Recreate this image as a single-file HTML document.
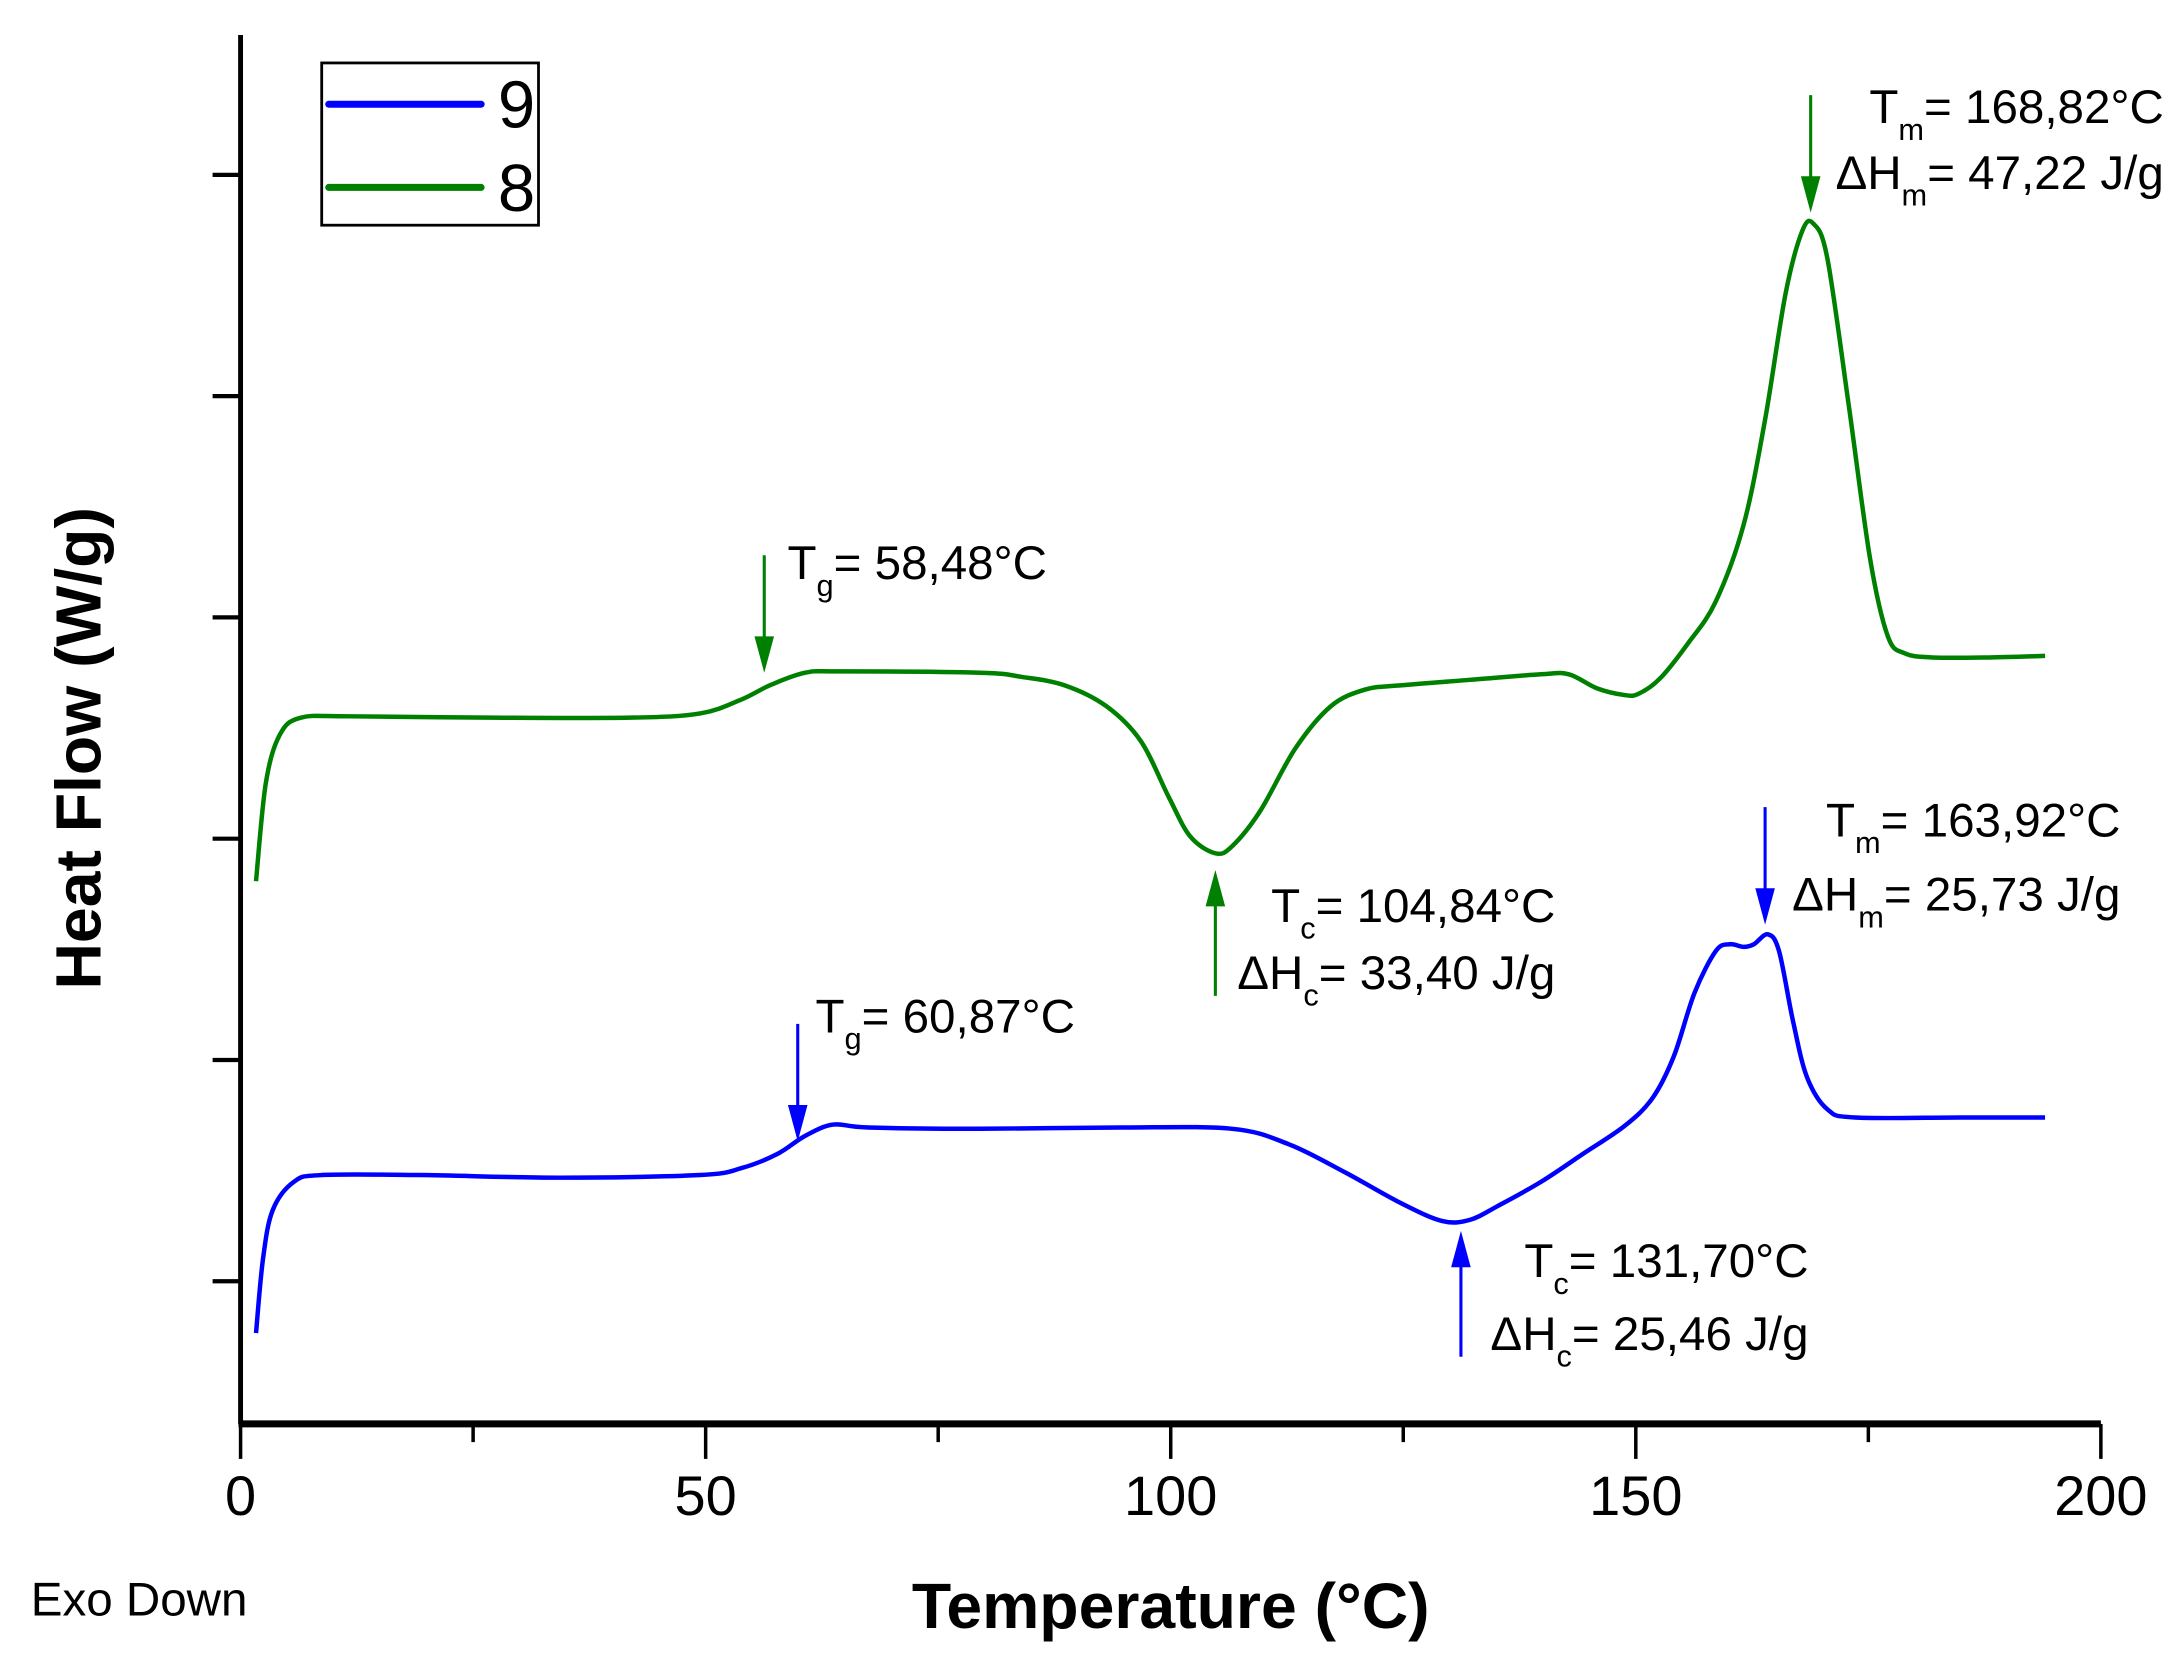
<!DOCTYPE html>
<html><head><meta charset="utf-8">
<style>html,body{margin:0;padding:0;background:#fff}svg{display:block}text{font-family:"Liberation Sans",Arial,sans-serif;fill:#000}</style>
</head><body>
<svg id="chart" width="2182" height="1655" viewBox="0 0 1560 1183.2" preserveAspectRatio="none" xmlns="http://www.w3.org/2000/svg">
<g id="axes"></g>
<g id="series"></g>
<g id="annot"></g>
<g>
  <rect x="230" y="45" width="155" height="116" fill="#fff" stroke="#000" stroke-width="2"/>
  <line x1="235" y1="74.5" x2="344" y2="74.5" stroke="#0000ff" stroke-width="5" stroke-linecap="round"/>
  <text x="356" y="91" font-size="48">9</text>
  <line x1="235" y1="134" x2="344" y2="134" stroke="#008000" stroke-width="5" stroke-linecap="round"/>
  <text x="356" y="151" font-size="48">8</text>
</g>
<text x="837" y="1164" font-size="46" font-weight="bold" text-anchor="middle">Temperature (°C)</text>
<text transform="translate(72,535) rotate(-90)" font-size="46" font-weight="bold" text-anchor="middle">Heat Flow (W/g)</text>
<text x="22" y="1155" font-size="34">Exo Down</text>
</svg>
<script>
const xTicks=[0,50,100,150,200];
const xMinor=[25,75,125,175];
const yTicks=[0,1,2,3,4,5];
const greenT=[1.66,2.71,4.22,6.48,11.75,26.8,41.9,49.4,53.9,56.9,60.7,64.5,79.5,84.0,88.6,93.1,96.8,99.8,102.1,104.8,106.6,109.6,113.4,117.2,120.9,124.7,132.2,139.8,142.8,145.8,148.8,150.3,152.6,155.6,158.6,161.6,163.9,166.1,167.9,169.1,170.6,172.9,175.2,177.1,178.9,181.9,188.0,194.0];
const greenV=[1.808,2.25,2.47,2.547,2.553,2.547,2.547,2.566,2.63,2.693,2.75,2.756,2.75,2.731,2.693,2.598,2.44,2.187,2.01,1.934,1.966,2.124,2.408,2.598,2.674,2.693,2.718,2.743,2.743,2.68,2.649,2.655,2.724,2.882,3.072,3.42,3.894,4.463,4.747,4.779,4.621,3.957,3.262,2.914,2.838,2.819,2.819,2.826];
const blueT=[1.66,2.41,3.46,5.72,8.73,19.3,34.3,49.4,53.9,57.7,60.7,63.7,67.5,79.5,94.6,106.6,112.7,118.7,124.7,129.2,132.2,135.2,139.8,144.3,148.8,151.8,154.1,156.3,158.6,160.1,161.6,162.7,164.2,165.4,166.9,168.4,170.6,173.6,184.9,194.0];
const blueV=[-0.234,0.101,0.322,0.449,0.48,0.48,0.468,0.48,0.512,0.575,0.657,0.708,0.695,0.689,0.695,0.689,0.619,0.493,0.354,0.272,0.278,0.341,0.449,0.575,0.702,0.828,1.018,1.302,1.492,1.523,1.511,1.523,1.568,1.492,1.176,0.923,0.777,0.74,0.74,0.74];
const annT=[56.3,59.9,104.8,131.2,168.8,163.9];

const NS="http://www.w3.org/2000/svg";
const X0=172,X1=1502,Y0=1018,YT=25;
function xs(t){return X0+(t-0)*(X1-X0)/200;}
function ys(v){return 916-v*158.2;}
function mk(tag,attrs,parent){const e=document.createElementNS(NS,tag);for(const k in attrs)e.setAttribute(k,attrs[k]);parent.appendChild(e);return e;}
const axes=document.getElementById('axes');
let e=mk('line',{x1:X0,y1:YT,x2:X0,y2:Y0,stroke:'#000','stroke-width':3.5},axes);


e=mk('line',{x1:X0-1.5,y1:Y0,x2:X1,y2:Y0,stroke:'#000','stroke-width':5},axes);


xTicks.forEach(t=>{
  const l=mk('line',{x1:xs(t),y1:Y0,x2:xs(t),y2:Y0+25,stroke:'#000','stroke-width':2.5},axes);
  
  
  const tx=mk('text',{x:xs(t),y:1083,'font-size':40,'text-anchor':'middle'},axes);
  tx.textContent=t;
  
  
});
xMinor.forEach(t=>{
  const l=mk('line',{x1:xs(t),y1:Y0,x2:xs(t),y2:Y0+13,stroke:'#000','stroke-width':2.5},axes);
  
  
});
yTicks.forEach(v=>{
  const l=mk('line',{x1:X0-20,y1:ys(v),x2:X0,y2:ys(v),stroke:'#000','stroke-width':3},axes);
  
  
});
function pathFrom(T,V){
  const p=T.map((t,i)=>[xs(t),ys(V[i])]);
  let d='M'+p[0][0]+','+p[0][1];
  for(let i=0;i<p.length-1;i++){
    const a=p[i-1]||p[i],b=p[i],c=p[i+1],n=p[i+2]||c;
    const c1=[b[0]+(c[0]-a[0])/6,b[1]+(c[1]-a[1])/6],c2=[c[0]-(n[0]-b[0])/6,c[1]-(n[1]-b[1])/6];
    d+=`C${c1[0]},${c1[1]} ${c2[0]},${c2[1]} ${c[0]},${c[1]}`;
  }
  return d;
}
const ser=document.getElementById('series');
let s=mk('path',{d:pathFrom(greenT,greenV),fill:'none',stroke:'#008000','stroke-width':3.2,'stroke-linejoin':'round'},ser);


s=mk('path',{d:pathFrom(blueT,blueV),fill:'none',stroke:'#0000ff','stroke-width':3.2,'stroke-linejoin':'round'},ser);



const an=document.getElementById('annot');
function arrow(x,yTail,yTip,col,name){
  const g=mk('g',{},an);
  
  
  const dir=yTip>yTail?1:-1;
  mk('line',{x1:x,y1:yTail,x2:x,y2:yTip-dir*20,stroke:col,'stroke-width':2.2},g);
  mk('path',{d:`M${x-7},${yTip-dir*26} L${x},${yTip} L${x+7},${yTip-dir*26} Z`,fill:col},g);
}
arrow(xs(annT[0]),397,481,'#008000','arrow-tg-8');
arrow(xs(annT[1]),732,816,'#0000ff','arrow-tg-9');
arrow(xs(annT[2]),712,622,'#008000','arrow-tc-8');
arrow(xs(annT[3]),970,880,'#0000ff','arrow-tc-9');
arrow(xs(annT[4]),68,152,'#008000','arrow-tm-8');
arrow(xs(annT[5]),577,661,'#0000ff','arrow-tm-9');
function label(x,y,anchor,main,sub,rest,name){
  const t=mk('text',{x:x,y:y,'font-size':34,'text-anchor':anchor},an);
  
  
  t.innerHTML=`${main}<tspan font-size="22" dy="12">${sub}</tspan><tspan dy="-12">${rest}</tspan>`;
}
label(563,414,'start','T','g','= 58,48°C','label-tg-8');
label(583,738,'start','T','g','= 60,87°C','label-tg-9');
label(1547,88,'end','T','m','= 168,82°C','label-tm-8');
label(1547,135,'end','ΔH','m','= 47,22 J/g','label-dhm-8');
label(1112,659,'end','T','c','= 104,84°C','label-tc-8');
label(1112,707,'end','ΔH','c','= 33,40 J/g','label-dhc-8');
label(1516,598,'end','T','m','= 163,92°C','label-tm-9');
label(1516,651,'end','ΔH','m','= 25,73 J/g','label-dhm-9');
label(1293,913,'end','T','c','= 131,70°C','label-tc-9');
label(1293,965,'end','ΔH','c','= 25,46 J/g','label-dhc-9');
</script>
</body></html>
